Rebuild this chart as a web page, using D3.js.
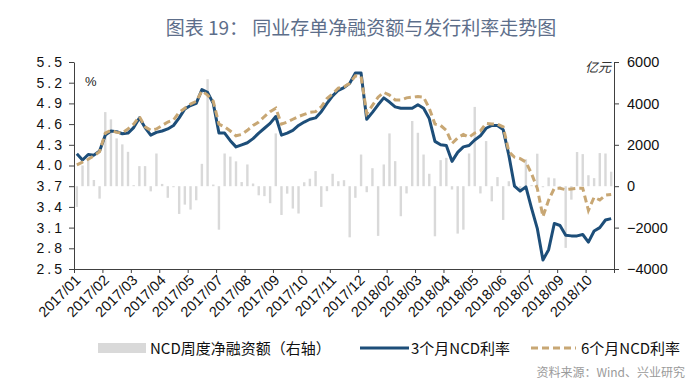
<!DOCTYPE html>
<html>
<head>
<meta charset="utf-8">
<script src="https://cdn.jsdelivr.net/npm/d3@7"></script>
<style>
  body { margin: 0; background: #fff; }
</style>
</head>
<body>
<script>

// weekly data, 2017/01 - 2018/11
const weeks = d3.range(95)

const tickLabels = ["2017/01","2017/02","2017/03","2017/04","2017/05","2017/07","2017/08","2017/09",
  "2017/10","2017/11","2017/12","2018/02","2018/03","2018/04","2018/05","2018/06","2018/07","2018/09","2018/10"]

// NCD weekly net financing (亿元, right axis)
const netFinancing = [
  -1000, 1000, 1300, 300, -600, 3580, 3230, 2310, 2020, 1660,
  50, 970, 970, -250, 1580, 110, -560, -50, -1340, -890,
  -1130, -680, 1080, 5170, 80, -2100, 1580, 1430, 1200, 200,
  1050, 130, -440, -480, -820, 2550, -1390, -360, -1080, -1320,
  190, 360, 730, -1000, -240, 600, 240, 290, -2470, -560,
  1530, -290, 870, -2400, 1050, 2550, 1210, -1450, -350, 3150,
  2580, 1530, 600, -2420, 1260, 1370, -160, -2290, -2100, 1580,
  3830, -350, 2180, -730, 440, -1630, 240, 100, -300, 1300,
  50, 1570, -50, 420, 380, -50, -2980, -650, 1650, 1550,
  530, 390, 1600, 1580, 700
]

// 3M NCD rate (%)
const rate3m = [
  4.17, 4.08, 4.16, 4.15, 4.21, 4.44, 4.50, 4.49, 4.46, 4.47,
  4.55, 4.69, 4.55, 4.44, 4.48, 4.50, 4.53, 4.58, 4.69, 4.82,
  4.87, 4.90, 5.10, 5.06, 4.90, 4.47, 4.47, 4.36, 4.27, 4.30,
  4.33, 4.39, 4.47, 4.54, 4.61, 4.71, 4.44, 4.47, 4.51, 4.58,
  4.63, 4.67, 4.69, 4.78, 4.90, 5.01, 5.09, 5.13, 5.19, 5.34,
  5.34, 4.67, 4.77, 4.88, 4.98, 4.92, 4.85, 4.83, 4.83, 4.83,
  4.88, 4.83, 4.68, 4.35, 4.30, 4.29, 4.06, 4.19, 4.27, 4.29,
  4.37, 4.43, 4.54, 4.58, 4.58, 4.52, 4.15, 3.70, 3.63, 3.69,
  3.38, 3.09, 2.63, 2.78, 3.16, 3.13, 2.99, 2.98, 2.98, 3.00,
  2.89, 3.05, 3.10, 3.21, 3.23
]

// 6M NCD rate (%)
const rate6m = [
  4.01, 4.05, 4.09, 4.14, 4.20, 4.47, 4.51, 4.48, 4.47, 4.53,
  4.60, 4.71, 4.56, 4.51, 4.53, 4.58, 4.63, 4.66, 4.77, 4.83,
  4.89, 4.93, 5.08, 5.02, 4.93, 4.60, 4.56, 4.50, 4.43, 4.45,
  4.51, 4.58, 4.63, 4.71, 4.78, 4.83, 4.60, 4.63, 4.67, 4.71,
  4.74, 4.77, 4.78, 4.85, 4.97, 5.04, 5.12, 5.14, 5.19, 5.30,
  5.29, 4.75, 4.87, 4.99, 5.06, 5.02, 4.95, 4.95, 4.98, 4.99,
  5.00, 4.99, 4.83, 4.60, 4.58, 4.51, 4.32, 4.40, 4.45, 4.41,
  4.47, 4.50, 4.61, 4.60, 4.60, 4.56, 4.20, 4.12, 4.10, 4.05,
  3.88, 3.67, 3.26, 3.50, 3.67, 3.67, 3.65, 3.66, 3.67, 3.67,
  3.35, 3.54, 3.50, 3.57, 3.58
]

const leftTicks = [2.5, 2.8, 3.1, 3.4, 3.7, 4.0, 4.3, 4.6, 4.9, 5.2, 5.5]
const rightTicks = [-4000, -2000, 0, 2000, 4000, 6000]

let svgwidth = 700
let svgheight = 390

let plotLeft = 74, plotRight = 614, plotTop = 62, plotBottom = 269

let svg = d3.select(document.body)
  .append('svg')
    .attr('width', svgwidth)
    .attr('height', svgheight)
    .style('font-family', '"Liberation Sans", Arial, sans-serif')

svg.append('rect')
  .attr('width', svgwidth)
  .attr('height', svgheight)
  .attr('fill', '#fff')

// title
svg.append('text')
  .attr('x', 361)
  .attr('y', 35)
  .attr('text-anchor', 'middle')
  .attr('font-family', '"Noto Sans CJK SC", sans-serif')
  .attr('font-size', 19)
  .attr('fill', '#5d6e8a')
  .text('图表 19：  同业存单净融资额与发行利率走势图')

let x = d3.scaleLinear().domain([0, weeks.length]).range([plotLeft, plotRight])
let yL = d3.scaleLinear().domain([2.5, 5.5]).range([plotBottom, plotTop])
let yR = d3.scaleLinear().domain([-4000, 6000]).range([plotBottom, plotTop])

// bars
svg.append('g')
    .attr('fill', '#d9d9d9')
  .selectAll('rect')
  .data(netFinancing)
  .join('rect')
    .attr('x', (d, i) => x(weeks[i] + 0.5) - 1.2)
    .attr('width', 2.4)
    .attr('y', d => Math.min(yR(d), yR(0)))
    .attr('height', d => Math.abs(yR(d) - yR(0)))

let line = d3.line()
  .x((d, i) => x(weeks[i] + 0.5))
  .y(d => yL(d))

svg.append('path')
  .datum(rate3m)
  .attr('d', line)
  .attr('fill', 'none')
  .attr('stroke', '#1d4e79')
  .attr('stroke-width', 3)
  .attr('stroke-linejoin', 'round')

svg.append('path')
  .datum(rate6m)
  .attr('d', line)
  .attr('fill', 'none')
  .attr('stroke', '#c8a774')
  .attr('stroke-width', 3)
  .attr('stroke-dasharray', '7,4')

// axes
let axisColor = '#404040'

let gL = svg.append('g')
  .attr('transform', `translate(${plotLeft},0)`)
  .call(d3.axisLeft(yL).tickValues(leftTicks).tickSize(5).tickSizeOuter(0).tickFormat(d3.format('.1f')))
gL.selectAll('text')
  .attr('font-size', 14)
  .attr('letter-spacing', 3)
  .attr('x', -9)
  .attr('fill', '#111')

let gR = svg.append('g')
  .attr('transform', `translate(${plotRight},0)`)
  .call(d3.axisRight(yR).tickValues(rightTicks).tickSize(5).tickSizeOuter(0).tickFormat(d3.format('d')))
gR.selectAll('text')
  .attr('font-size', 14.5)
  .attr('x', 13)
  .attr('fill', '#111')

let gB = svg.append('g')
  .attr('transform', `translate(0,${plotBottom})`)
  .call(d3.axisBottom(x).tickValues(d3.range(0, weeks.length + 1, 5)).tickSize(4).tickSizeOuter(0)
    .tickFormat((d, i) => tickLabels[i] || ''))
gB.selectAll('text')
  .attr('x', 0)
  .attr('y', 0)
  .attr('dy', 0)
  .attr('text-anchor', 'end')
  .attr('transform', 'translate(7,12) rotate(-45)')
  .attr('font-size', 14.5)
  .attr('fill', '#111')

svg.selectAll('.domain, .tick line')
  .attr('stroke', axisColor)

svg.append('text')
  .attr('x', 85)
  .attr('y', 86)
  .attr('font-size', 13)
  .attr('fill', '#222')
  .text('%')

svg.append('text')
  .attr('x', 611)
  .attr('y', 72)
  .attr('text-anchor', 'end')
  .attr('font-family', '"Noto Sans CJK SC", sans-serif')
  .attr('font-style', 'italic')
  .attr('font-size', 13)
  .attr('fill', '#333')
  .text('亿元')

// legend
let lg = svg.append('g')
  .attr('font-family', '"Noto Sans CJK SC", sans-serif')
  .attr('font-size', 15)
  .attr('fill', '#111')

lg.append('rect')
  .attr('x', 98).attr('y', 343)
  .attr('width', 48).attr('height', 10)
  .attr('fill', '#d9d9d9')
lg.append('text').attr('x', 150).attr('y', 353.5).text('NCD周度净融资额（右轴）')

lg.append('line')
  .attr('x1', 360).attr('x2', 409).attr('y1', 348).attr('y2', 348)
  .attr('stroke', '#1d4e79').attr('stroke-width', 3)
lg.append('text').attr('x', 411).attr('y', 353.5).text('3个月NCD利率')

lg.append('line')
  .attr('x1', 531).attr('x2', 576).attr('y1', 348).attr('y2', 348)
  .attr('stroke', '#c8a774').attr('stroke-width', 3)
  .attr('stroke-dasharray', '7,4')
lg.append('text').attr('x', 581).attr('y', 353.5).text('6个月NCD利率')

svg.append('text')
  .attr('x', 685)
  .attr('y', 377)
  .attr('text-anchor', 'end')
  .attr('font-family', '"Noto Sans CJK SC", sans-serif')
  .attr('font-size', 12)
  .attr('fill', '#9a9a9a')
  .text('资料来源：Wind、兴业研究')

</script>
</body>
</html>
